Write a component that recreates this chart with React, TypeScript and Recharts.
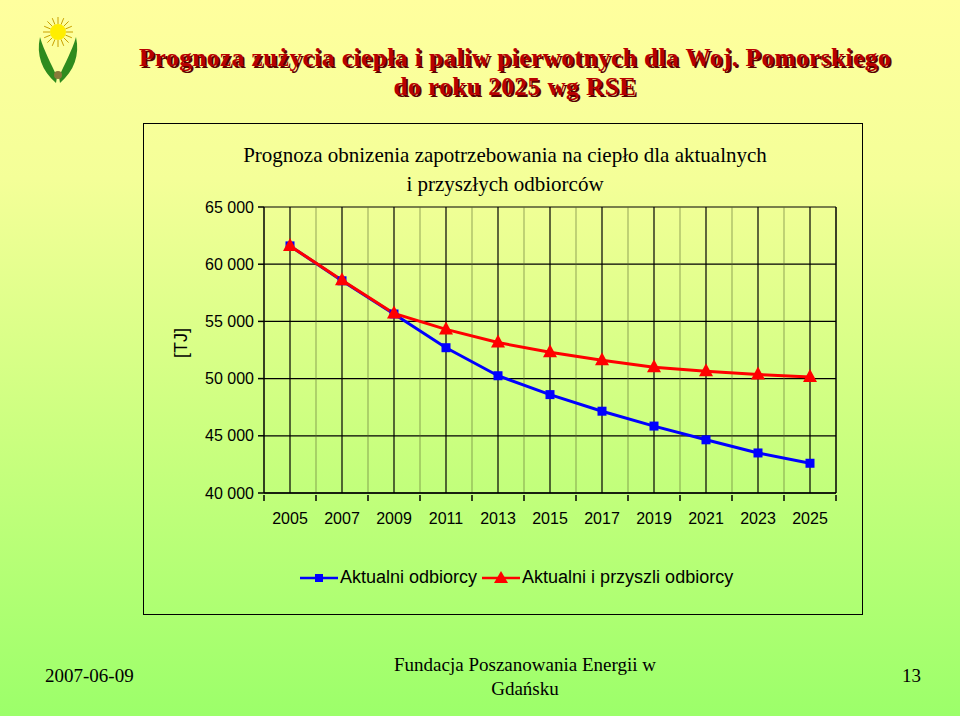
import { LineChart, Line, XAxis, YAxis, CartesianGrid, ReferenceLine, Legend } from 'recharts'

const years = [2005, 2007, 2009, 2011, 2013, 2015, 2017, 2019, 2021, 2023, 2025]
const boundaries = [2006, 2008, 2010, 2012, 2014, 2016, 2018, 2020, 2022, 2024]
const allTicks = [2004, 2005, 2006, 2007, 2008, 2009, 2010, 2011, 2012, 2013, 2014, 2015, 2016, 2017, 2018, 2019, 2020, 2021, 2022, 2023, 2024, 2025, 2026]
const current = [61600, 58550, 55650, 52700, 50250, 48600, 47150, 45850, 44650, 43500, 42600]
const future = [61600, 58600, 55700, 54300, 53150, 52300, 51600, 51000, 50650, 50350, 50150]
const yTicks = [40000, 45000, 50000, 55000, 60000, 65000]
const seriesOrder = ['current', 'future']

const data = years.map((year, i) => ({ year, current: current[i], future: future[i] }))

const sans = '"Liberation Sans", Arial, sans-serif'
const serif = '"Liberation Serif", "Times New Roman", serif'

const fmt = (v: number) => {
  const s = String(v)
  return s.slice(0, s.length - 3) + ' ' + s.slice(-3)
}

function XTick(props: any) {
  const { x, y, payload } = props
  const v = payload.value
  if (v % 2 === 0) {
    return <line x1={x} y1={y - 6} x2={x} y2={y} stroke="#000" strokeWidth={1.5} />
  }
  return (
    <text x={x} y={y + 12} dy="0.71em" textAnchor="middle" fontSize={16} fontFamily={sans} fill="#000">
      {v}
    </text>
  )
}

function YLabel(props: any) {
  const { viewBox } = props
  if (!viewBox) return null
  const x = viewBox.x - 23
  const y = viewBox.y + viewBox.height / 2 - 7
  return (
    <text x={x} y={y} transform={`rotate(-90, ${x}, ${y})`} textAnchor="middle" dominantBaseline="central" fontSize={18} fontFamily={sans} fill="#000">
      [TJ]
    </text>
  )
}

function SquareDot(props: any) {
  const { cx, cy } = props
  if (cx == null || cy == null) return null
  return <rect x={cx - 4.5} y={cy - 4.5} width={9} height={9} fill="#0000ff" />
}

function TriangleDot(props: any) {
  const { cx, cy } = props
  if (cx == null || cy == null) return null
  return <polygon points={`${cx},${cy - 8} ${cx - 7},${cy + 5} ${cx + 7},${cy + 5}`} fill="#ff0000" />
}

function LegendContent(props: any) {
  const items = [...(props.payload || [])].sort(
    (a: any, b: any) => seriesOrder.indexOf(a.dataKey) - seriesOrder.indexOf(b.dataKey)
  )
  return (
    <div style={{ display: 'flex', alignItems: 'center', fontFamily: sans, fontSize: 18, color: '#000' }}>
      {items.map((p: any) => (
        <div key={p.value} style={{ display: 'flex', alignItems: 'center', marginRight: 5 }}>
          <svg width={38} height={14}>
            <line x1={0} y1={7} x2={38} y2={7} stroke={p.color} strokeWidth={2.5} />
            {p.dataKey === 'current' ? (
              <rect x={15} y={3} width={8} height={8} fill={p.color} />
            ) : (
              <polygon points="19,0 12,12 26,12" fill={p.color} />
            )}
          </svg>
          <span style={{ marginLeft: 2 }}>{p.value}</span>
        </div>
      ))}
    </div>
  )
}

function Logo() {
  const rays = Array.from({ length: 16 }, (_, i) => (i * Math.PI * 2) / 16)
  return (
    <svg width={80} height={90} style={{ position: 'absolute', left: 20, top: 5 }}>
      {rays.map((a, i) => (
        <line key={i} x1={38 + Math.cos(a) * 8} y1={27 + Math.sin(a) * 8} x2={38 + Math.cos(a) * 15} y2={27 + Math.sin(a) * 15} stroke="#c8a000" strokeWidth={1} />
      ))}
      <circle cx={38} cy={27} r={8} fill="#ffee00" />
      <path d="M36,78 C22,66 16,50 20,32 C24,46 31,58 37,72 Z" fill="#2e8b1e" />
      <path d="M40,78 C54,66 60,50 56,32 C52,46 45,58 39,72 Z" fill="#2e8b1e" />
      <circle cx={38} cy={70} r={4} fill="#8a7a3a" />
    </svg>
  )
}

export default function App() {
  return (
    <div
      style={{
        position: 'absolute',
        left: 0,
        top: 0,
        width: 960,
        height: 716,
        overflow: 'hidden',
        background: 'linear-gradient(to bottom, #ffff9e 0%, #f4ff98 25%, #ccff80 60%, #9cff6a 100%)',
      }}
    >
      <Logo />
      <div
        style={{
          position: 'absolute',
          left: 0,
          top: 43,
          width: 1030,
          textAlign: 'center',
          fontFamily: serif,
          fontWeight: 'bold',
          fontSize: 25,
          lineHeight: '29px',
          letterSpacing: 0.6,
          color: '#b80000',
          textShadow: '2px 2px 0 #5a0000',
        }}
      >
        <div>Prognoza zużycia ciepła i paliw pierwotnych dla Woj. Pomorskiego</div>
        <div>do roku 2025 wg RSE</div>
      </div>

      <div style={{ position: 'absolute', left: 143, top: 123, width: 718, height: 490, border: '1px solid #000' }} />

      <div
        style={{
          position: 'absolute',
          left: 143,
          top: 141,
          width: 724,
          textAlign: 'center',
          fontFamily: serif,
          fontSize: 21,
          lineHeight: '29px',
          color: '#000',
        }}
      >
        <div>Prognoza obnizenia zapotrzebowania na ciepło dla aktualnych</div>
        <div>i przyszłych odbiorców</div>
      </div>

      <div style={{ position: 'absolute', left: 0, top: 0 }}>
        <LineChart width={960} height={716} data={data} margin={{ top: 207, right: 124, bottom: 193, left: 204 }}>
          <CartesianGrid vertical={false} stroke="#000" strokeWidth={1.2} />
          {boundaries.map((b) => (
            <ReferenceLine key={'b' + b} x={b} stroke="#5a6a30" strokeOpacity={0.5} strokeWidth={1.2} />
          ))}
          {years.map((y) => (
            <ReferenceLine key={'y' + y} x={y} stroke="#000" strokeWidth={1.2} />
          ))}
          <ReferenceLine x={2026} stroke="#000" strokeWidth={1.5} />
          <XAxis
            dataKey="year"
            type="number"
            domain={[2004, 2026]}
            ticks={allTicks}
            interval={0}
            tickLine={false}
            axisLine={{ stroke: '#000', strokeWidth: 1.5 }}
            tick={<XTick />}
            height={30}
          />
          <YAxis
            type="number"
            domain={[40000, 65000]}
            ticks={yTicks}
            interval={0}
            width={60}
            tickFormatter={fmt}
            tickSize={6}
            tickMargin={4}
            tickLine={{ stroke: '#000', strokeWidth: 1.5 }}
            axisLine={{ stroke: '#000', strokeWidth: 1.5 }}
            tick={{ fill: '#000', fontSize: 16, fontFamily: sans }}
            label={<YLabel />}
          />
          <Legend
            layout="horizontal"
            verticalAlign="middle"
            align="center"
            content={<LegendContent />}
            wrapperStyle={{ top: 567, left: 300, width: 480 }}
          />
          <Line
            type="linear"
            dataKey="current"
            name="Aktualni odbiorcy"
            stroke="#0000ff"
            strokeWidth={3}
            dot={<SquareDot />}
            isAnimationActive={false}
          />
          <Line
            type="linear"
            dataKey="future"
            name="Aktualni i przyszli odbiorcy"
            stroke="#ff0000"
            strokeWidth={3}
            dot={<TriangleDot />}
            isAnimationActive={false}
          />
        </LineChart>
      </div>

      <div style={{ position: 'absolute', left: 45, top: 665, fontFamily: serif, fontSize: 19, color: '#000' }}>2007-06-09</div>
      <div
        style={{
          position: 'absolute',
          left: 325,
          top: 653,
          width: 400,
          textAlign: 'center',
          fontFamily: serif,
          fontSize: 19,
          lineHeight: '24px',
          color: '#000',
        }}
      >
        <div>Fundacja Poszanowania Energii w</div>
        <div>Gdańsku</div>
      </div>
      <div style={{ position: 'absolute', left: 902, top: 665, fontFamily: serif, fontSize: 19, color: '#000' }}>13</div>
    </div>
  )
}
